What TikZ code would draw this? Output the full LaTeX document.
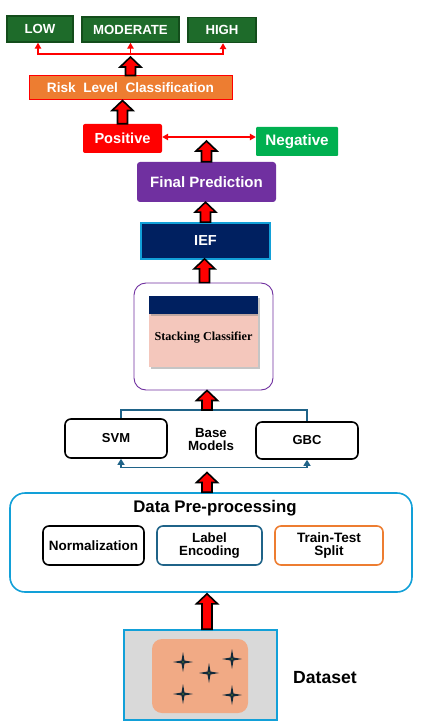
\documentclass[tikz,border=0pt]{standalone}
\usepackage{fontspec}
\setmainfont{Liberation Sans}
\newfontfamily\serifb{Liberation Serif}
\usetikzlibrary{calc,shadows,arrows.meta}
\definecolor{dgreen}{HTML}{1E6B2A}
\definecolor{dgreenb}{HTML}{134D1B}
\definecolor{rorange}{HTML}{ED7D31}
\definecolor{pgreen}{HTML}{00B050}
\definecolor{fpurple}{HTML}{7030A0}
\definecolor{navy}{HTML}{002060}
\definecolor{lblue}{HTML}{12A0D8}
\definecolor{pinkb}{HTML}{F4C7BC}
\definecolor{tealc}{HTML}{1F6388}
\definecolor{dsgray}{HTML}{D9D9D9}
\definecolor{dsorange}{HTML}{F1AA85}
\definecolor{starc}{HTML}{10293A}
\tikzset{
  bf/.style={font=\fontsize{#1}{#1}\selectfont\bfseries},
  bfl/.style 2 args={font=\fontsize{#1}{#2}\selectfont\bfseries},
  lvl/.style={draw=dgreenb, line width=1.5pt, fill=dgreen, text=white, inner sep=0pt, bf=13.2},
  barrow/.style={fill=red, draw=black, line width=1.6pt, line join=miter},
  redarr/.style={draw=red, line width=1.3pt, -{Triangle[length=6pt,width=6.5pt]}},
  tealline/.style={draw=tealc, line width=1.3pt},
  rbox/.style={draw=black, line width=1.6pt, rounded corners=6pt, fill=white, inner sep=0pt, bf=13, align=center},
}
\newcommand\blockarr[2]{%
  \filldraw[barrow] let \p1=(#1), \p2=(#2) in
   (\x1-5pt,\y1) -- (\x1-5pt,\y2-10pt) -- (\x1-10.5pt,\y2-10pt) -- (\x1,\y2)
   -- (\x1+10.5pt,\y2-10pt) -- (\x1+5pt,\y2-10pt) -- (\x1+5pt,\y1) -- cycle;}
\begin{document}
\begin{tikzpicture}[x=1pt,y=-1pt]
\useasboundingbox (0,0) rectangle (422,727);
% level boxes
\node[lvl, minimum width=66pt, minimum height=26pt] (low) at (40,29) {LOW};
\node[lvl, minimum width=97pt, minimum height=25pt] (mod) at (130.5,29.5) {MODERATE};
\node[lvl, minimum width=68pt, minimum height=25pt] (high) at (222,30) {HIGH};
\coordinate (rj) at (131,54);
\draw[redarr] (rj) -| ([xshift=-2pt]low.south);
\draw[redarr] (rj) -- (rj -| mod.south) -- (mod.south);
\draw[redarr] (rj) -| ([xshift=1pt]high.south);
% risk
\node[draw=red, line width=1pt, fill=rorange, text=white, minimum width=203pt, minimum height=24pt, inner sep=0pt, bf=13.6] (risk) at (130.5,88) {Risk\ \ Level\ \ Classification};
\blockarr{risk.north}{[yshift=-3pt]rj}
% positive / negative
\node[fill=red, rounded corners=2pt, text=white, minimum width=79pt, minimum height=29pt, inner sep=0pt, bf=14.6] (pos) at (122.5,138.5) {Positive};
\node[fill=pgreen, rounded corners=1pt, text=white, minimum width=82pt, minimum height=29pt, inner sep=0pt, bf=15.2] (neg) at (297,141.5) {Negative};
\blockarr{pos.north}{pos.north |- risk.south}
\draw[draw=red, line width=1.2pt, {Triangle[length=6pt,width=6.5pt]}-{Triangle[length=6pt,width=6.5pt]}] ([yshift=1.5pt]pos.east) -- ([yshift=1.5pt]pos.east -| neg.west);
% final
\node[fill=fpurple, rounded corners=3pt, text=white, minimum width=139pt, minimum height=40pt, inner sep=0pt, bf=15] (final) at (206.5,182) {Final Prediction};
\blockarr{final.north}{[yshift=-2.5pt]final.north |- pos.east}
% IEF
\node[fill=navy, draw=lblue, line width=1.8pt, text=white, minimum width=129pt, minimum height=36pt, inner sep=0pt, bf=14.5] (ief) at (205.5,241) {IEF};
\blockarr{ief.north}{final.south}
% stacking
\node[draw=fpurple, line width=0.9pt, rounded corners=12pt, fill=white, minimum width=139pt, minimum height=107pt] (stack) at (203.5,336.5) {};
\node[fill=pinkb, minimum width=109pt, minimum height=53pt, inner sep=0pt, drop shadow={shadow xshift=1.5pt, shadow yshift=-2pt, opacity=0.45}] (body) at (203.5,340.5) {};
\node[fill=navy, minimum width=109pt, minimum height=18pt, inner sep=0pt, drop shadow={shadow xshift=1.5pt, shadow yshift=-2pt, opacity=0.45}] (head) at (203.5,305) {};
\node[font=\serifb\fontsize{12.2}{14}\selectfont\bfseries] (stxt) at (203.5,338) {Stacking Classifier};
\blockarr{[xshift=1pt]stack.north}{[yshift=1pt]ief.south}
% base models
\node[rbox, minimum width=102pt, minimum height=39pt] (svm) at (116,438.5) {SVM};
\node[rbox, minimum width=102pt, minimum height=37pt] (gbc) at (307,440.5) {GBC};
\node[bfl={13.3}{13}, align=center] (base) at (211,439) {Base\\Models};
\coordinate (bt) at (207,410);
\coordinate (bb) at (207,467.5);
\draw[tealline] ([xshift=5pt]svm.north) |- (gbc.north |- bt) -- (gbc.north);
\draw[tealline, -{Triangle[length=6pt,width=7pt]}] (bb) -| ([xshift=5pt]svm.south);
\draw[tealline, -{Triangle[length=6pt,width=7pt]}] (bb) -| (gbc.south);
\blockarr{bt}{stack.south}
% preprocessing
\node[draw=lblue, line width=1.6pt, rounded corners=15pt, minimum width=402pt, minimum height=99pt] (pre) at (211,542.5) {};
\node[bf=16.8] (pret) at (215,508) {Data Pre-processing};
\node[rbox, minimum width=101pt, minimum height=39pt, bf=13.5] (norm) at (93.5,545.5) {Normalization};
\node[rbox, draw=tealc, minimum width=105pt, minimum height=39pt, bfl={13.3}{13}] (lab) at (209.5,545.5) {Label\\Encoding};
\node[rbox, draw=rorange, minimum width=108pt, minimum height=39pt, bfl={13.6}{13}] (split) at (329,545.5) {Train-Test\\Split};
\blockarr{pre.north -| bb}{[yshift=-5pt]bb}
% dataset
\node[draw=lblue, line width=1.6pt, fill=dsgray, minimum width=153pt, minimum height=90pt] (ds) at (200.5,675) {};
\node[fill=dsorange, rounded corners=10pt, minimum width=96pt, minimum height=74pt] (dsin) at (200,676) {};
\foreach \sx/\sy in {183/662, 232/659, 209/673, 183/694, 232/695}{
  \fill[starc] (\sx,\sy) +(0,-10) -- +(1.5,-1.5) -- +(10,0) -- +(1.5,1.5) -- +(0,10) -- +(-1.5,1.5) -- +(-10,0) -- +(-1.5,-1.5) -- cycle;
  \fill[yellow!70!green] (\sx,\sy) circle (0.6pt);
}
\node[bf=17.6] (dst) at (325,677.5) {Dataset};
\blockarr{[xshift=6.5pt]ds.north}{[yshift=-1pt]pre.south -| bb}
\end{tikzpicture}
\end{document}
